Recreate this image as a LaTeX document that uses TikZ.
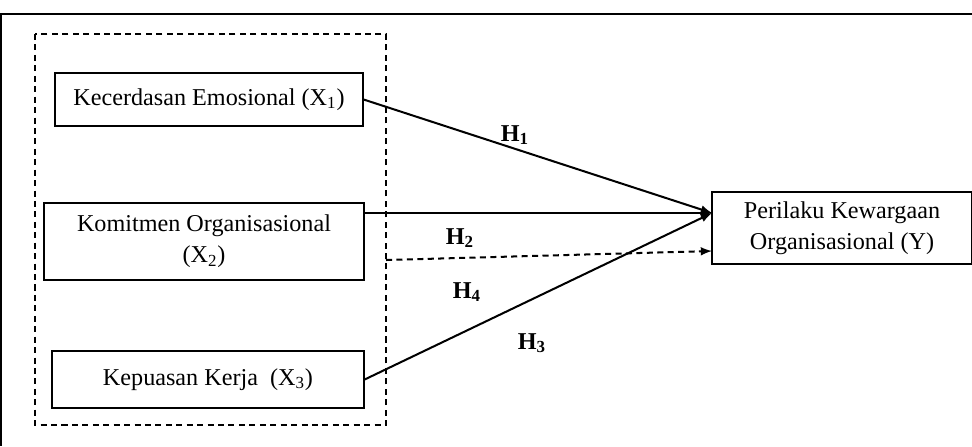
\documentclass[tikz,border=0pt]{standalone}
\usepackage{fontspec}
\setmainfont{Liberation Serif}
\usetikzlibrary{calc}
\begin{document}
\begin{tikzpicture}[x=0.0192cm,y=-0.0192cm,
    varbox/.style={draw,line width=0.7pt,inner sep=0pt,align=center,font=\fontsize{13.2}{17}\selectfont},
    hyp/.style={font=\bfseries\fontsize{13.2}{15}\selectfont},
    arr/.style={-latex,line width=1.1pt}]
            \useasboundingbox (0,0) rectangle (972,446);
            % frame
            \draw[line width=1pt] (972,14) -- (1,14) -- (1,446);
            \draw[dash pattern=on 3.3pt off 2.4pt,line width=0.7pt] (35,34) rectangle (386,425);
            % variables
            \node[varbox,minimum width=308*0.0192cm,minimum height=53*0.0192cm] (x1) at (209,99.5) {Kecerdasan Emosional (X\textsubscript{1})};
            \node[varbox,minimum width=320*0.0192cm,minimum height=77*0.0192cm] (x2) at (204,241.5) {Komitmen Organisasional\\(X\textsubscript{2})};
            \node[varbox,minimum width=312*0.0192cm,minimum height=57*0.0192cm] (x3) at (208,379.5) {Kepuasan Kerja\ \ (X\textsubscript{3})};
            \node[varbox,minimum width=260*0.0192cm,minimum height=72*0.0192cm] (y) at (842,228) {Perilaku Kewargaan\\Organisasional (Y)};
            \coordinate (tip) at (712,213);
            \coordinate (dstart) at (386,260);
            \coordinate (dtip) at (712,251);
            % paths
            \draw[arr] (x1.east) -- (tip);
            \draw[arr] (x2.east |- tip) -- (tip);
            \draw[arr] (x3.east) -- (tip);
            \draw[arr,dash pattern=on 3.3pt off 2.4pt] (dstart) -- (dtip);
            \node[hyp] (h1) at (515,135) {H\textsubscript{1}};
            \node[hyp] (h2) at (460,238) {H\textsubscript{2}};
            \node[hyp] (h4) at (467,292) {H\textsubscript{4}};
            \node[hyp] (h3) at (532,343) {H\textsubscript{3}};
        \end{tikzpicture}
\end{document}
